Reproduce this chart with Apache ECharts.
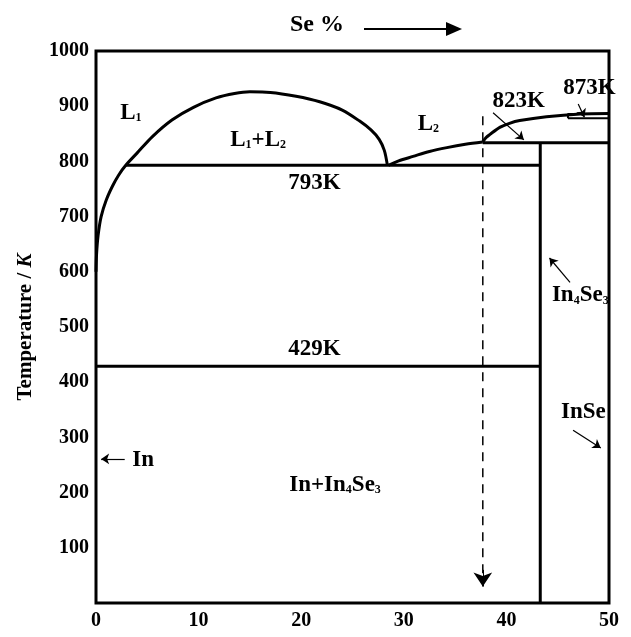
<!DOCTYPE html>
<html>
<head>
<meta charset="utf-8">
<script src="https://cdn.jsdelivr.net/npm/echarts@6/dist/echarts.min.js"></script>
<style>
html,body{margin:0;padding:0;background:#fff;}
#main{width:631px;height:637px;}
</style>
</head>
<body>
<div id="main"></div>
<script>
// axis ticks
var xTicks = [0, 10, 20, 30, 40, 50];
var yTicks = [100, 200, 300, 400, 500, 600, 700, 800, 900, 1000];

// phase boundaries (Se %, K)
var liquidusL1 = [[0,600],[0.05,630],[0.2,665],[0.5,700],[1.0,730],[1.6,755],[2.2,775],[2.9,793],
  [4,815],[5.5,845],[7.4,875],[9.5,898],[11.7,915],[13.5,923],[15,926],[17,925],[19.5,918],
  [21.8,908],[24,893],[25.7,873],[26.8,857],[27.6,840],[28.1,820],[28.4,793]];
var liquidusL2 = [[28.5,793],[29.5,801],[30.9,809],[32.5,818],[34.2,825],[36,831],[37.7,835]];
var upperCurve = [[37.7,835],[38.0,843],[38.4,849],[39.4,862],[40.3,869],[41.3,874],[43.9,881],[47.2,886],[50,887]];
var line793 = [[2.9,793],[43.3,793]];
var line429 = [[0,429],[43.3,429]];
var line833 = [[37.7,834],[50,834]];
var in4se3Line = [[43.3,0],[43.3,834]];
var box873 = [[46,878],[50,878],[50,886],[46,886],[46,878]];

// dashed cooling path
var coolingPath = [[37.7,882],[37.7,30]];

// annotation arrows [from, to]
var arrows = [
  [[38.7,888],[41.7,839]],   // 823K
  [[47.0,904],[47.6,880]],   // 873K
  [[46.2,581],[44.2,625]],   // In4Se3
  [[46.5,313],[49.2,281]],   // InSe
  [[2.8,261],[0.5,261]]      // In
];

// text labels
var labelPos = [[3.4,888],[15.8,839],[32.4,868],[21.3,761],[41.2,909],[48.1,933],[21.3,460],[47.2,558],[47.5,346],[4.6,259],[23.3,214]];
var labelText = ['{n|L}{s|1}','{n|L}{s|1}{n|+L}{s|2}','{n|L}{s|2}','793K','823K','873K','429K',
  '{n|In}{s|4}{n|Se}{s|3}','InSe','In','{n|In+In}{s|4}{n|Se}{s|3}'];

var FONT = '"Liberation Serif","DejaVu Serif",serif';
var chart = echarts.init(document.getElementById('main'));

function curve(data, smooth) {
  return {type:'line', data:data, smooth:smooth || 0, showSymbol:false, symbol:'none',
    lineStyle:{color:'#000', width:3}, silent:true, z:3};
}

var labelData = labelPos.map(function (p, i) { return {value:p, txt:labelText[i]}; });

chart.setOption({
  animation:false,
  backgroundColor:'#fff',
  grid:{left:96, right:22, top:51, bottom:34, show:true, borderColor:'#000', borderWidth:3},
  xAxis:{type:'value', min:xTicks[0], max:xTicks[xTicks.length-1], interval:10,
    axisLine:{show:false}, axisTick:{show:false}, splitLine:{show:false},
    axisLabel:{color:'#000', fontFamily:FONT, fontWeight:'bold', fontSize:20, margin:8}},
  yAxis:{type:'value', min:0, max:yTicks[yTicks.length-1], interval:100,
    name:'{a|Temperature / }{b|K}', nameLocation:'middle', nameRotate:90, nameGap:60,
    nameTextStyle:{rich:{a:{fontFamily:FONT, fontWeight:'bold', fontSize:21, color:'#000'},
      b:{fontFamily:FONT, fontWeight:'bold', fontStyle:'italic', fontSize:21, color:'#000'}}},
    axisLine:{show:false}, axisTick:{show:false}, splitLine:{show:false},
    axisLabel:{color:'#000', fontFamily:FONT, fontWeight:'bold', fontSize:20, margin:7,
      formatter:function (v) { return yTicks.indexOf(v) >= 0 ? String(v) : ''; }}},
  graphic:[
    {type:'text', left:290, top:13, style:{text:'Se %', fontFamily:FONT, fontWeight:'bold', fontSize:24, fill:'#000'}},
    {type:'line', shape:{x1:364, y1:29, x2:450, y2:29}, style:{stroke:'#000', lineWidth:2}},
    {type:'polygon', shape:{points:[[462,29],[446,22],[446,36]]}, style:{fill:'#000'}}
  ],
  series:[
    curve(liquidusL1, 0.3),
    curve(liquidusL2, 0.3),
    curve(upperCurve, 0.3),
    curve(line793),
    curve(line429),
    curve(line833),
    curve(in4se3Line),
    {type:'line', data:box873, showSymbol:false, symbol:'none', lineStyle:{color:'#000', width:2}, z:3},
    {type:'line', data:coolingPath, showSymbol:false, symbol:'none', z:2, color:'#000',
      lineStyle:{color:'#000', width:1.5, type:[9,7]},
      markLine:{silent:true, symbol:['none','arrow'], symbolSize:14, label:{show:false},
        itemStyle:{color:'#000'}, lineStyle:{color:'#000', width:1, type:'solid'},
        data:[[{coord:[37.7,60]},{coord:coolingPath[1]}]]}},
    {type:'line', data:[[0,0]], showSymbol:false, symbol:'none', lineStyle:{width:0}, z:4, color:'#000',
      markLine:{silent:true, symbol:['none','arrow'], symbolSize:8, label:{show:false},
        itemStyle:{color:'#000'}, lineStyle:{color:'#000', width:1.2, type:'solid'},
        data:arrows.map(function (a) { return [{coord:a[0]},{coord:a[1]}]; })}},
    {type:'scatter', data:labelData, symbolSize:0, z:5, silent:true, color:'#000',
      itemStyle:{opacity:1},
      label:{show:true, position:'inside', color:'#000', textBorderWidth:0, fontFamily:FONT, fontWeight:'bold', fontSize:23,
        formatter:function (p) { return p.data.txt; },
        rich:{n:{fontFamily:FONT, fontWeight:'bold', fontSize:23, color:'#000', textBorderWidth:0},
          s:{fontFamily:FONT, fontWeight:'bold', fontSize:12, color:'#000', textBorderWidth:0, verticalAlign:'bottom'}}}}
  ]
});
</script>
</body>
</html>
